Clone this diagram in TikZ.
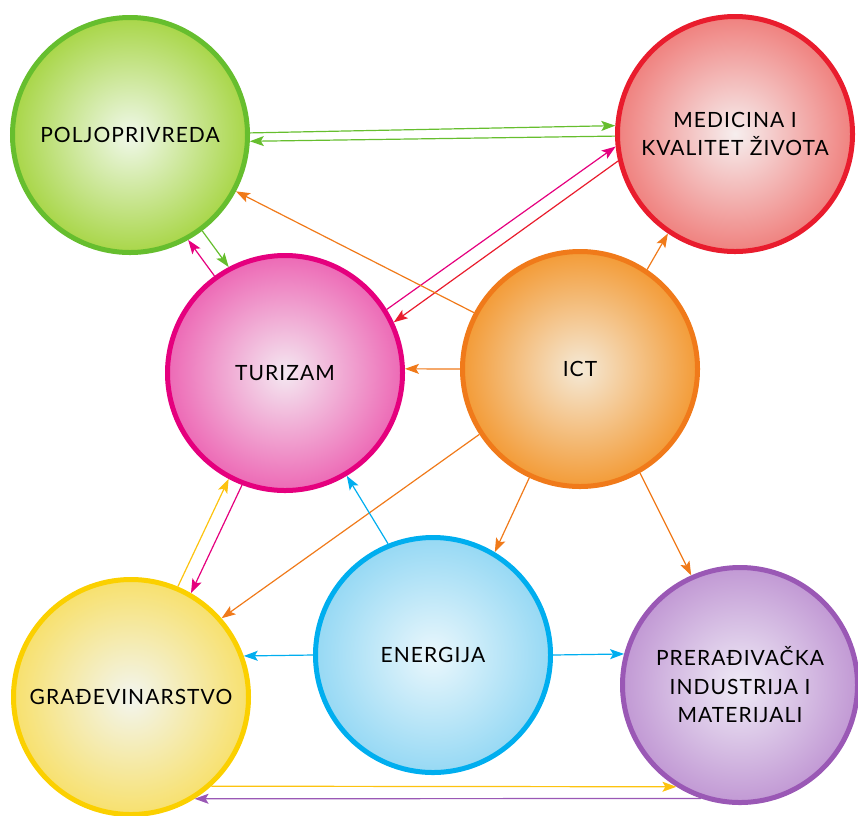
\documentclass[tikz,border=0pt]{standalone}
\usepackage{fontspec}
\setmainfont{Lato}[LetterSpace=5]
\usetikzlibrary{arrows.meta}
\definecolor{bubin}{HTML}{FFFFFF}
\definecolor{bubout}{HTML}{000000}
\pgfdeclareradialshading[bubin,bubout]{softrad}{\pgfpointorigin}{color(0bp)=(bubin); color(28bp)=(bubout); color(50bp)=(bubout)}
\definecolor{cgreen}{HTML}{66BE2E}
\definecolor{cgreenF}{HTML}{A0D235}
\definecolor{cgreenI}{HTML}{F0F8EA}
\definecolor{cred}{HTML}{E91C2D}
\definecolor{credF}{HTML}{EF7471}
\definecolor{credI}{HTML}{F6EEEE}
\definecolor{cpink}{HTML}{E5007E}
\definecolor{cpinkF}{HTML}{EC5AAE}
\definecolor{cpinkI}{HTML}{F4E8F1}
\definecolor{corange}{HTML}{F07A1A}
\definecolor{corangeF}{HTML}{F39224}
\definecolor{corangeI}{HTML}{F4E9D6}
\definecolor{cyellow}{HTML}{FBD000}
\definecolor{cyellowF}{HTML}{F8DE5E}
\definecolor{cyellowI}{HTML}{F2F5EF}
\definecolor{cyarrow}{HTML}{FDC30F}
\definecolor{cblue}{HTML}{00AEEF}
\definecolor{cblueF}{HTML}{8CD5F3}
\definecolor{cblueI}{HTML}{EAF7FC}
\definecolor{cpurple}{HTML}{9A58B5}
\definecolor{cpurpleF}{HTML}{BC8FD0}
\definecolor{cpurpleI}{HTML}{EFEBF6}
\begin{document}
\begin{tikzpicture}[x=1pt,y=-1pt,
  bub/.style n args={3}{circle, minimum size=235pt, inner sep=0pt, line width=5pt, draw=#1,
    /utils/exec={\colorlet{bubin}{#2}\colorlet{bubout}{#3}}, shade, shading=softrad,
    align=center, text=black, font=\fontsize{21}{28.5}\selectfont},
  arr/.style={line width=1.2pt, draw=#1, -{Stealth[length=14pt,width=10pt,inset=3pt]}}
]
\useasboundingbox (0,0) rectangle (858,815);
\node[bub={cgreen}{cgreenI}{cgreenF}] (P) at (130,135) {POLJOPRIVREDA};
\node[bub={cred}{credI}{credF}] (M) at (735,134) {MEDICINA I\\KVALITET ŽIVOTA};
\node[bub={cpink}{cpinkI}{cpinkF}] (T) at (285,373) {TURIZAM};
\node[bub={corange}{corangeI}{corangeF}] (I) at (580,369) {ICT};
\node[bub={cyellow}{cyellowI}{cyellowF}] (G) at (131,697) {GRAĐEVINARSTVO};
\node[bub={cblue}{cblueI}{cblueF}] (E) at (433,655) {ENERGIJA};
\node[bub={cpurple}{cpurpleI}{cpurpleF}] (R) at (740,685) {PRERAĐIVAČKA\\INDUSTRIJA I\\MATERIJALI};

\draw[arr=cgreen] (P.1) -- (M.176.7);
\draw[arr=cgreen] (M.181) -- (P.-3.8);
\draw[arr=cpink] (T.32.5) -- (M.186.5);
\draw[arr=cred] (M.193.7) -- (T.25);
\draw[arr=corange] (I.152.4) -- (P.-28.7);
\draw[arr=corange] (I.56.4) -- (M.236.3);
\draw[arr=corange] (I.180) -- (T.2);
\draw[arr=cgreen] (P.-53) -- (T.118);
\draw[arr=cpink] (T.126.2) -- (P.-61);
\draw[arr=cyarrow] (G.67) -- (T.242.4);
\draw[arr=cpink] (T.249.3) -- (G.60.7);
\draw[arr=corange] (I.213.8) -- (G.41);
\draw[arr=cblue] (E.112.4) -- (T.301);
\draw[arr=cblue] (E.180) -- (G.20.5);
\draw[arr=cblue] (E.0) -- (R.165.5);
\draw[arr=corange] (I.245.4) -- (E.59.4);
\draw[arr=corange] (I.300.6) -- (R.114.2);
\draw[arr=cyarrow] (G.-48.6) -- (R.238.2);
\draw[arr=cpurple] (R.251.8) -- (G.-58.2);
\end{tikzpicture}
\end{document}
